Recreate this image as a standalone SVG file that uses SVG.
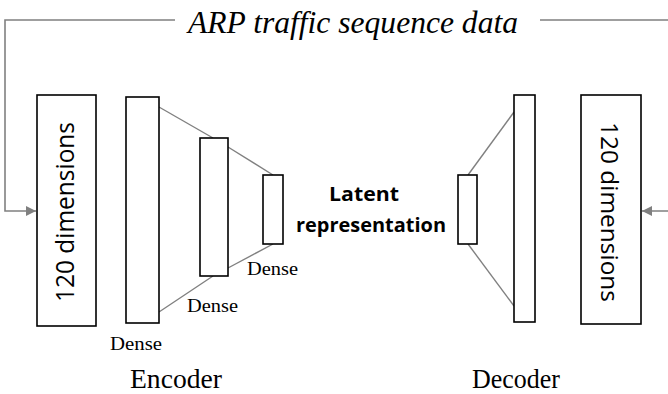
<svg xmlns="http://www.w3.org/2000/svg" width="668" height="394" viewBox="0 0 668 394">
<style>
.box{fill:#fff;stroke:#000;stroke-width:1.6}
.link{fill:none;stroke:#808080;stroke-width:1.4}
.conn{fill:none;stroke:#808080;stroke-width:1.6}
.serif{font-family:"Liberation Serif","Times New Roman",serif;fill:#000}
.sans{font-family:"Open Sans","Liberation Sans",sans-serif;fill:#000}
</style>
<defs>
<marker id="ah" viewBox="0 0 10 10" refX="10" refY="5" markerWidth="10" markerHeight="10" markerUnits="userSpaceOnUse" orient="auto">
<path d="M0,0 L10,5 L0,10 Z" fill="#808080"/>
</marker>
</defs>
<rect width="668" height="394" fill="#fff"/>
<g id="connectors">
<path class="conn" d="M175,20 H5 V211 H36" marker-end="url(#ah)"/>
<path class="conn" d="M540,20 H672 M668,211 H642" marker-end="url(#ah)"/>
<line class="link" x1="159" y1="107" x2="213" y2="138"/>
<line class="link" x1="159" y1="312" x2="213" y2="276"/>
<line class="link" x1="228" y1="147" x2="273" y2="175"/>
<line class="link" x1="228" y1="268" x2="273" y2="244"/>
<line class="link" x1="468" y1="175" x2="514" y2="112"/>
<line class="link" x1="468" y1="244" x2="514" y2="306"/>
</g>
<g id="title"><text class="serif" x="188" y="33" font-size="31" font-style="italic" textLength="330" lengthAdjust="spacingAndGlyphs">ARP traffic sequence data</text></g>
<g id="input">
<rect class="box" x="37" y="95" width="59" height="231"/>
<text class="sans" transform="translate(74,212) rotate(-90)" text-anchor="middle" font-size="26" textLength="180" lengthAdjust="spacingAndGlyphs">120 dimensions</text>
</g>
<g id="enc1"><rect class="box" x="126" y="97" width="33" height="226"/>
<text class="serif" x="110" y="350" font-size="19" textLength="52" lengthAdjust="spacingAndGlyphs">Dense</text></g>
<g id="enc2"><rect class="box" x="200" y="138" width="28" height="138"/>
<text class="serif" x="187" y="312" font-size="19" textLength="51" lengthAdjust="spacingAndGlyphs">Dense</text></g>
<g id="enc3"><rect class="box" x="263" y="175" width="20" height="69"/>
<text class="serif" x="247" y="275" font-size="19" textLength="51" lengthAdjust="spacingAndGlyphs">Dense</text></g>
<g id="latent">
<text class="sans" x="364" y="201" font-size="19" font-weight="bold" text-anchor="middle" textLength="70" lengthAdjust="spacingAndGlyphs">Latent</text>
<text class="sans" x="371" y="232" font-size="19" font-weight="bold" text-anchor="middle" textLength="150" lengthAdjust="spacingAndGlyphs">representation</text>
</g>
<g id="dec1"><rect class="box" x="458" y="175" width="19" height="69"/></g>
<g id="dec2"><rect class="box" x="514" y="95" width="21" height="227"/></g>
<g id="output">
<rect class="box" x="581" y="95" width="60" height="229"/>
<text class="sans" transform="translate(601,212) rotate(90)" text-anchor="middle" font-size="24" textLength="180" lengthAdjust="spacingAndGlyphs">120 dimensions</text>
</g>
<g id="labels">
<text class="serif" x="176" y="388" font-size="27" text-anchor="middle" textLength="92" lengthAdjust="spacingAndGlyphs">Encoder</text>
<text class="serif" x="516" y="388" font-size="27" text-anchor="middle" textLength="88" lengthAdjust="spacingAndGlyphs">Decoder</text>
</g>
</svg>
